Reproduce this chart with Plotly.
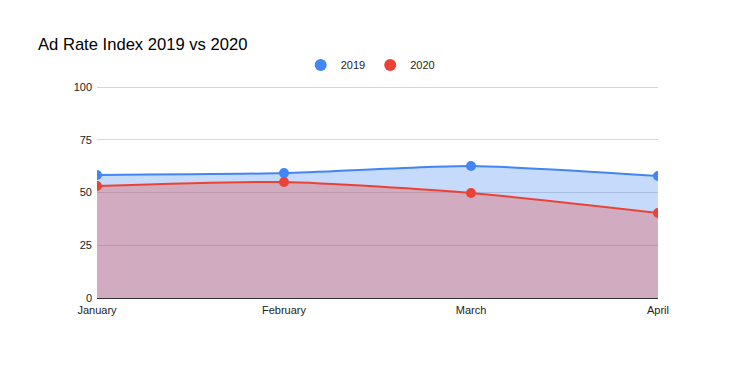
import plotly.graph_objects as go

months = ["January", "February", "March", "April"]
v2019 = [58.3, 59.2, 62.6, 57.8]
v2020 = [53.1, 55.0, 49.8, 40.3]
y_ticks = [0, 25, 50, 75, 100]

xs = list(range(len(months)))
fig = go.Figure()

series = [("2019", v2019, "#4285F4", "rgba(66,133,244,0.3)"),
          ("2020", v2020, "#EA4335", "rgba(234,67,53,0.3)")]
for name, vals, col, fillc in series:
    fig.add_trace(go.Scatter(
        x=xs, y=vals, name=name, mode="lines+markers",
        line=dict(color=col, width=2, shape="spline", smoothing=0.6),
        marker=dict(color=col, size=10),
        fill="tozeroy", fillcolor=fillc, showlegend=False))
for name, vals, col, fillc in series:
    fig.add_trace(go.Scatter(
        x=[None], y=[None], name=name, mode="markers",
        marker=dict(color=col, size=12), showlegend=True))

W, H = 730, 364
L, R, T, B = 89, 80, 78, 74
fig.update_layout(
    width=W, height=H,
    margin=dict(l=L, r=R, t=T, b=B, autoexpand=False),
    paper_bgcolor="white", plot_bgcolor="white",
    font=dict(family="Liberation Sans, Arial, sans-serif", color="#222", size=11),
    title=dict(text="Ad Rate Index 2019 vs 2020", x=30/W, xanchor="left",
               y=1 - 36/H, yanchor="middle",
               font=dict(size=16.6, color="#000")),
    legend=dict(orientation="h", x=0.487, xanchor="center", y=1 + 21/(H - T - B),
                yanchor="middle", font=dict(size=11, color="#222"),
                itemwidth=30, tracegroupgap=0),
    xaxis=dict(range=[0, 3], tickvals=xs, ticktext=months, showgrid=False,
               zeroline=False, showline=False, ticks="", ticklabelstandoff=4,
               tickfont=dict(size=11, color="#222")),
    yaxis=dict(range=[0, 100.5], tickvals=y_ticks, showgrid=True, gridcolor="#d6d6d6",
               gridwidth=1, zeroline=True, zerolinecolor="#333", zerolinewidth=1,
               ticks="", ticklabelstandoff=4, tickfont=dict(size=11, color="#222")),
)

fig.write_html("out.html")
